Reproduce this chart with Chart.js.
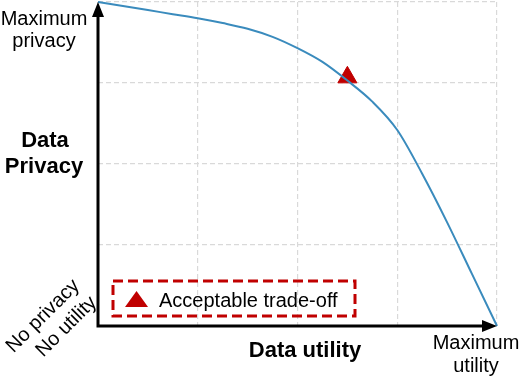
<!DOCTYPE html>
<html>
<head>
<meta charset="utf-8">
<script src="https://cdn.jsdelivr.net/npm/chart.js@4"></script>
<style>
  html, body { margin: 0; padding: 0; background: #fff; }
  #wrap { width: 520px; height: 378px; }
</style>
</head>
<body>
<div id="wrap"><canvas id="frontier" width="520" height="378"></canvas></div>
<script>
// privacy / utility frontier, both axes on a 0..4 scale
const utility = [0, 0.25, 0.5, 0.75, 1, 1.25, 1.5, 1.75, 2, 2.25, 2.5, 2.75, 3, 3.25, 3.5, 3.75, 4];
const privacy = [4, 3.95, 3.9, 3.85, 3.8, 3.74, 3.67, 3.57, 3.43, 3.26, 3.03, 2.77, 2.42, 1.88, 1.28, 0.64, 0];
const tradeoffUtility = [2.5];
const tradeoffPrivacy = [3.07];
const gridTicks = [0, 1, 2, 3, 4];

const RED = '#c00000';
const FONT = '"Liberation Sans", Arial, sans-serif';

const labelsPlugin = {
  id: 'frontierLabels',
  afterDraw(chart) {
    const { ctx, chartArea: a } = chart;
    ctx.save();

    // axes with arrow heads
    ctx.strokeStyle = '#000';
    ctx.fillStyle = '#000';
    ctx.lineWidth = 3;
    ctx.beginPath();
    ctx.moveTo(a.left, a.bottom);
    ctx.lineTo(a.left, a.top + 12);
    ctx.moveTo(a.left - 1.5, a.bottom);
    ctx.lineTo(a.right - 12, a.bottom);
    ctx.stroke();
    ctx.beginPath();
    ctx.moveTo(a.left, a.top);
    ctx.lineTo(a.left - 6, a.top + 15);
    ctx.lineTo(a.left + 6, a.top + 15);
    ctx.closePath();
    ctx.fill();
    ctx.beginPath();
    ctx.moveTo(a.right, a.bottom);
    ctx.lineTo(a.right - 15, a.bottom - 6);
    ctx.lineTo(a.right - 15, a.bottom + 6);
    ctx.closePath();
    ctx.fill();

    // corner and axis labels
    ctx.textAlign = 'center';
    ctx.textBaseline = 'alphabetic';
    ctx.font = '20px ' + FONT;
    ctx.fillText('Maximum', a.left - 54, a.top + 23);
    ctx.fillText('privacy', a.left - 54, a.top + 45);
    ctx.fillText('Maximum', a.right - 21, a.bottom + 23);
    ctx.fillText('utility', a.right - 21, a.bottom + 46);

    ctx.font = 'bold 22px ' + FONT;
    ctx.fillText('Data', a.left - 53, a.top + 145);
    ctx.fillText('Privacy', a.left - 54, a.top + 171);
    ctx.fillText('Data utility', 305, a.bottom + 31);

    ctx.font = '20px ' + FONT;
    ctx.save();
    ctx.translate(a.left - 45, a.bottom - 7);
    ctx.rotate(-Math.PI / 4);
    ctx.textBaseline = 'middle';
    ctx.fillText('No privacy', -5, -9);
    ctx.fillText('No utility', 4, 15);
    ctx.restore();

    // legend box
    const bx = a.left + 15, by = a.bottom - 45, bw = 242, bh = 35;
    ctx.strokeStyle = RED;
    ctx.lineWidth = 3;
    ctx.setLineDash([10, 5]);
    ctx.strokeRect(bx, by, bw, bh);
    ctx.setLineDash([]);
    ctx.fillStyle = RED;
    ctx.beginPath();
    ctx.moveTo(bx + 23.5, by + 10);
    ctx.lineTo(bx + 35, by + 26);
    ctx.lineTo(bx + 12, by + 26);
    ctx.closePath();
    ctx.fill();
    ctx.fillStyle = '#000';
    ctx.textAlign = 'left';
    ctx.textBaseline = 'alphabetic';
    ctx.font = '20px ' + FONT;
    ctx.fillText('Acceptable trade-off', bx + 46, by + 26);

    ctx.restore();
  }
};

const gridOpts = {
  color: '#d9d9d9',
  lineWidth: 1.2,
  drawTicks: false,
  borderDash: [5, 3]
};

new Chart(document.getElementById('frontier'), {
  type: 'scatter',
  data: {
    datasets: [
      {
        label: 'Frontier',
        data: utility.map((u, i) => ({ x: u, y: privacy[i] })),
        showLine: true,
        borderColor: '#3a8bbd',
        borderWidth: 2,
        pointRadius: 0,
        cubicInterpolationMode: 'monotone',
        clip: 4
      },
      {
        label: 'Acceptable trade-off',
        data: tradeoffUtility.map((u, i) => ({ x: u, y: tradeoffPrivacy[i] })),
        pointStyle: 'triangle',
        pointRadius: 11,
        backgroundColor: RED,
        borderColor: RED,
        borderWidth: 1,
        clip: false
      }
    ]
  },
  options: {
    responsive: false,
    animation: false,
    layout: { autoPadding: false, padding: { left: 98, right: 23, top: 2, bottom: 52 } },
    plugins: {
      legend: { display: false },
      tooltip: { enabled: false }
    },
    scales: {
      x: {
        type: 'linear',
        min: gridTicks[0],
        max: gridTicks[gridTicks.length - 1],
        afterBuildTicks: (s) => { s.ticks = gridTicks.map(v => ({ value: v })); },
        ticks: { display: false },
        grid: gridOpts,
        border: { display: false, dash: [5, 3] }
      },
      y: {
        type: 'linear',
        min: gridTicks[0],
        max: gridTicks[gridTicks.length - 1],
        afterBuildTicks: (s) => { s.ticks = gridTicks.map(v => ({ value: v })); },
        ticks: { display: false },
        grid: gridOpts,
        border: { display: false, dash: [5, 3] }
      }
    }
  },
  plugins: [labelsPlugin]
});
</script>
</body>
</html>
